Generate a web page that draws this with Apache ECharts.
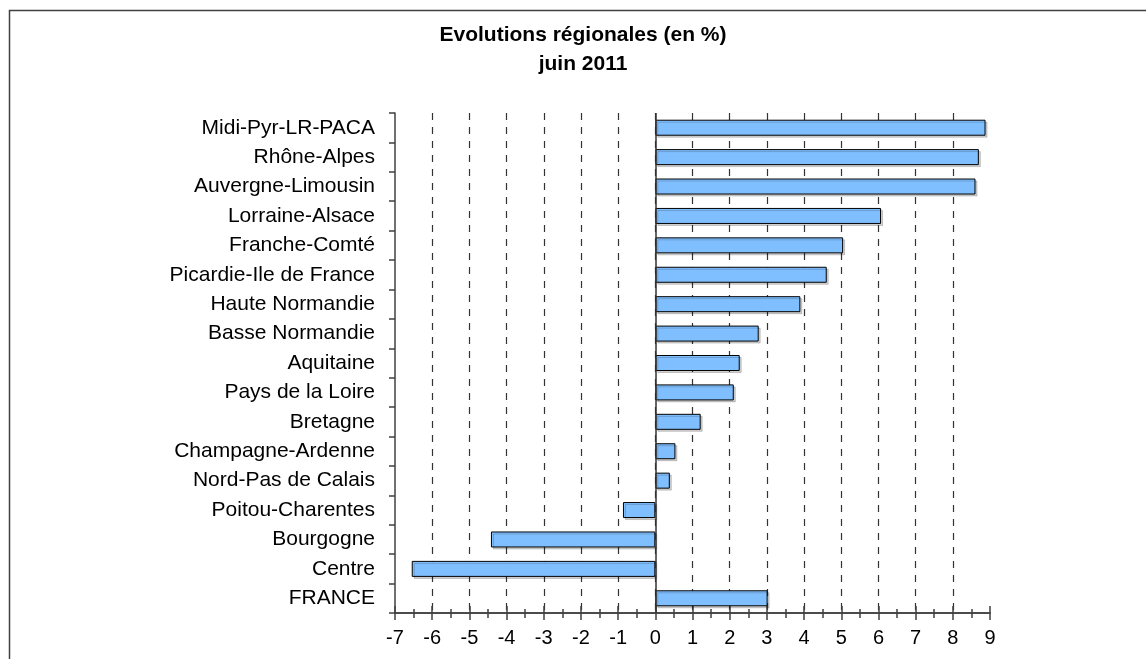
<!DOCTYPE html>
<html>
<head>
<meta charset="utf-8">
<title>Evolutions régionales</title>
<script src="https://cdn.jsdelivr.net/npm/echarts@6/dist/echarts.min.js"></script>
<style>
  html, body { margin: 0; padding: 0; background: #fff; }
  #chart { width: 1146px; height: 659px; }
</style>
</head>
<body>
<div id="chart"></div>
<script>
// regions, top to bottom
const regions = [
  'Midi-Pyr-LR-PACA',
  'Rhône-Alpes',
  'Auvergne-Limousin',
  'Lorraine-Alsace',
  'Franche-Comté',
  'Picardie-Ile de France',
  'Haute Normandie',
  'Basse Normandie',
  'Aquitaine',
  'Pays de la Loire',
  'Bretagne',
  'Champagne-Ardenne',
  'Nord-Pas de Calais',
  'Poitou-Charentes',
  'Bourgogne',
  'Centre',
  'FRANCE'
]
// évolution en %
const evolutions = [8.88, 8.70, 8.61, 6.07, 5.05, 4.61, 3.90, 2.78, 2.27, 2.11, 1.22, 0.54, 0.39, -0.87, -4.42, -6.55, 3.02]
const xMin = -7
const xMax = 9
const xStep = 1

const font = 'Liberation Sans, Arial, sans-serif'
const chart = echarts.init(document.getElementById('chart'), null, {renderer: 'canvas'})

chart.setOption({
  backgroundColor: '#fff',
  animation: false,
  title: {
    text: 'Evolutions régionales (en %)\njuin 2011',
    left: 583,
    top: 21,
    padding: 0,
    textAlign: 'center',
    textStyle: {
      fontFamily: font,
      fontSize: 21,
      fontWeight: 'bold',
      color: '#000',
      lineHeight: 29
    }
  },
  // cadre autour du graphique
  graphic: [{
    type: 'rect',
    silent: true,
    shape: {x: 9.5, y: 10.5, width: 1200, height: 700},
    style: {fill: 'none', stroke: '#404040', lineWidth: 1.5}
  }],
  grid: {
    left: 395,
    right: 156,
    top: 113,
    bottom: 46,
    containLabel: false
  },
  xAxis: [{
    type: 'value',
    position: 'bottom',
    min: xMin,
    max: xMax,
    interval: xStep,
    axisLine: {show: true, onZero: false, lineStyle: {color: '#404040', width: 1.5}},
    axisTick: {show: true, inside: false, length: 7, lineStyle: {color: '#404040', width: 1.5}},
    minorTick: {show: true, splitNumber: 2, length: 5, lineStyle: {color: '#404040', width: 1.5}},
    axisLabel: {margin: 15, fontFamily: font, fontSize: 20, color: '#000'},
    splitLine: {
      show: true,
      showMinLine: false,
      showMaxLine: false,
      lineStyle: {color: '#333', width: 1.2, type: [7, 7]}
    }
  }, {
    // second axe pour les graduations qui traversent la ligne
    type: 'value',
    position: 'bottom',
    min: xMin,
    max: xMax,
    interval: xStep,
    axisLine: {show: true, onZero: false, lineStyle: {color: '#404040', width: 1.5}},
    axisTick: {show: true, inside: true, length: 7, lineStyle: {color: '#404040', width: 1.5}},
    minorTick: {show: true, splitNumber: 2, length: 4, lineStyle: {color: '#404040', width: 1.5}},
    axisLabel: {show: false},
    splitLine: {show: false}
  }],
  yAxis: {
    type: 'category',
    data: regions,
    inverse: true,
    axisLine: {show: true, onZero: false, lineStyle: {color: '#404040', width: 1.5}},
    axisTick: {show: true, inside: false, length: 6, lineStyle: {color: '#404040', width: 1.5}},
    axisLabel: {margin: 20, fontFamily: font, fontSize: 21, color: '#000'},
    splitLine: {show: false}
  },
  series: [{
    type: 'bar',
    xAxisIndex: 0,
    data: evolutions,
    barWidth: 16,
    itemStyle: {
      color: '#80BFFF',
      borderColor: '#000',
      borderWidth: 1,
      shadowColor: 'rgba(0,0,0,0.18)',
      shadowOffsetX: 2,
      shadowOffsetY: 2,
      shadowBlur: 0
    },
    markLine: {
      silent: true,
      symbol: 'none',
      label: {show: false},
      lineStyle: {type: 'solid', color: '#333', width: 1.5},
      data: [{xAxis: 0}]
    }
  }]
})
</script>
</body>
</html>
